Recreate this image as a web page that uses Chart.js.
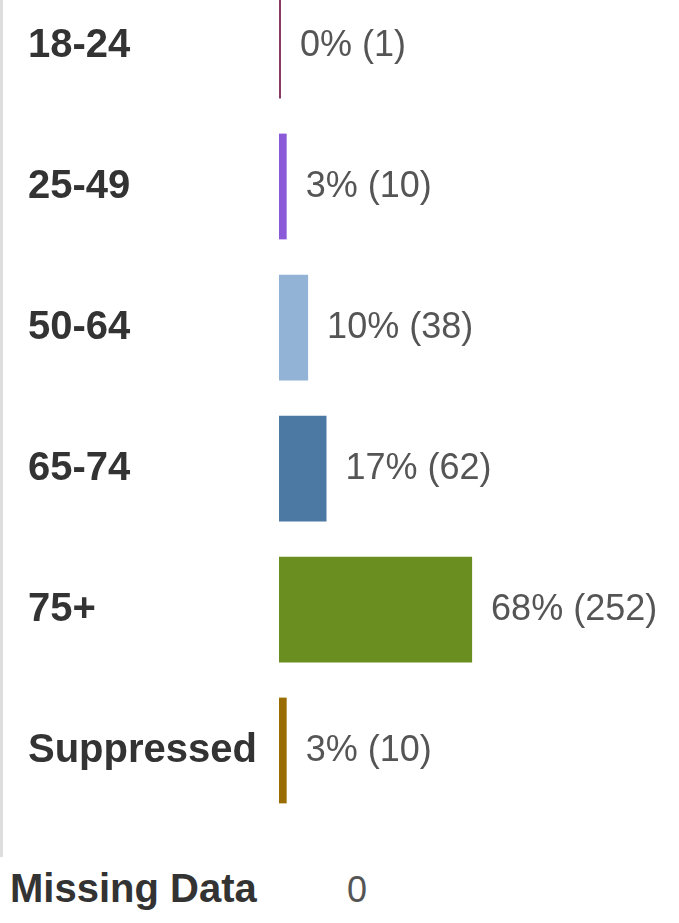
<!DOCTYPE html>
<html>
<head>
<meta charset="utf-8">
<script src="https://cdn.jsdelivr.net/npm/chart.js@4"></script>
<style>
  body { margin: 0; background: #fff; width: 679px; height: 923px; overflow: hidden; position: relative; font-family: "Liberation Sans", Arial, sans-serif; }
  #sideLine { position: absolute; left: 0; top: 0; width: 3px; height: 857px; background: #dedede; }
  #wrap { position: absolute; left: 0; top: -52px; width: 679px; height: 900px; }
  #missLabel { position: absolute; left: 10px; top: 866px; font-size: 40px; font-weight: bold; color: #333; line-height: 44px; }
  #missValue { position: absolute; left: 347px; top: 868px; font-size: 36px; color: #555; line-height: 44px; }
</style>
</head>
<body>
<div id="sideLine"></div>
<div id="wrap"><canvas id="chartEdades"></canvas></div>
<div id="missLabel">Missing Data</div>
<div id="missValue">0</div>
<script>
// datos
const categorias = ["18-24", "25-49", "50-64", "65-74", "75+", "Suppressed"];
const cantidades = [1, 10, 38, 62, 252, 10];
const porcentajes = [0, 3, 10, 17, 68, 3];
const colores = ["#8a3a64", "#8a5ad8", "#92b2d6", "#4b79a4", "#6a8e1f", "#9a6c04"];

// etiqueta "x% (n)" al final de cada barra
const etiquetasBarras = {
  id: "etiquetasBarras",
  afterDatasetsDraw(chart) {
    const ctx = chart.ctx;
    const meta = chart.getDatasetMeta(0);
    ctx.save();
    ctx.font = "36px 'Liberation Sans', Arial, sans-serif";
    ctx.fillStyle = "#555";
    ctx.textAlign = "left";
    ctx.textBaseline = "middle";
    meta.data.forEach((bar, i) => {
      ctx.fillText(porcentajes[i] + "% (" + cantidades[i] + ")", bar.x + 19, bar.y + 1);
    });
    ctx.restore();
  },
};

const ctx_edades = document.getElementById("chartEdades");
const myChart = new Chart(ctx_edades, {
  type: "bar",
  data: {
    labels: categorias,
    datasets: [
      {
        data: cantidades,
        backgroundColor: colores,
        borderWidth: 0,
        categoryPercentage: 0.75,
        barPercentage: 1,
        minBarLength: 2,
      },
    ],
  },
  options: {
    indexAxis: "y",
    responsive: true,
    maintainAspectRatio: false,
    animation: false,
    layout: { padding: { left: 28, right: 0, top: 0, bottom: 0 } },
    plugins: {
      legend: { display: false },
      tooltip: { enabled: false },
    },
    scales: {
      x: {
        display: false,
        min: 0,
        max: 522,
      },
      y: {
        grid: { display: false },
        border: { display: false },
        ticks: {
          crossAlign: "far",
          color: "#333",
          font: { family: "'Liberation Sans', Arial, sans-serif", size: 40, weight: "bold" },
        },
        afterFit(scale) {
          scale.width = 251;
        },
      },
    },
  },
  plugins: [etiquetasBarras],
});
</script>
</body>
</html>
